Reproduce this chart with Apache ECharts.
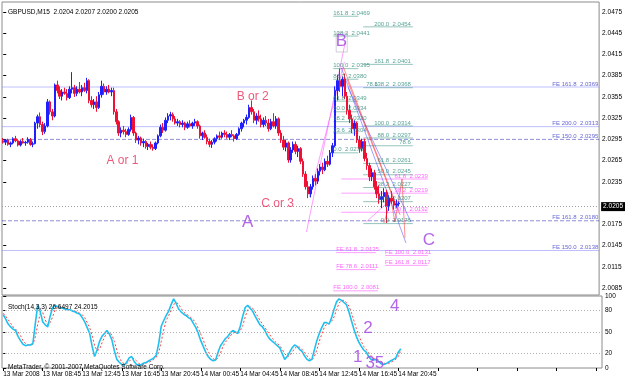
<!DOCTYPE html>
<html><head><meta charset="utf-8">
<script src="https://cdn.jsdelivr.net/npm/echarts/dist/echarts.min.js"></script>
<style>html,body{margin:0;padding:0;background:#fff}#c{width:625px;height:380px}</style>
</head><body><div id="c"></div>
<script>
// ---------- data ----------
const opens=[2.0293,2.0291,2.0294,2.0288,2.0290,2.0296,2.0293,2.0287,2.0292,2.0290,
2.0291,2.0295,2.0288,2.0289,2.0318,2.0327,2.0316,2.0306,2.0314,2.0348,
2.0334,2.0328,2.0372,2.0364,2.0356,2.0362,2.0360,2.0354,2.0366,2.0368,
2.0360,2.0366,2.0362,2.0368,2.0364,2.0378,2.0350,2.0344,2.0348,2.0340,
2.0358,2.0370,2.0362,2.0366,2.0362,2.0364,2.0334,2.0320,2.0304,2.0308,
2.0306,2.0302,2.0309,2.0326,2.0304,2.0294,2.0297,2.0290,2.0292,2.0285,
2.0288,2.0284,2.0282,2.0290,2.0300,2.0312,2.0308,2.0322,2.0328,2.0330,
2.0324,2.0318,2.0320,2.0316,2.0318,2.0312,2.0317,2.0314,2.0318,2.0320,
2.0314,2.0300,2.0304,2.0298,2.0292,2.0288,2.0291,2.0296,2.0300,2.0298,
2.0304,2.0302,2.0298,2.0302,2.0300,2.0296,2.0302,2.0310,2.0318,2.0322,
2.0326,2.0340,2.0334,2.0322,2.0328,2.0324,2.0316,2.0322,2.0318,2.0310,
2.0320,2.0314,2.0324,2.0304,2.0294,2.0284,2.0290,2.0266,2.0280,2.0288,
2.0278,2.0282,2.0264,2.0246,2.0228,2.0218,2.0228,2.0240,2.0236,2.0250,
2.0256,2.0252,2.0264,2.0260,2.0276,2.0286,2.0364,2.0378,2.0370,2.0380,
2.0356,2.0336,2.0324,2.0310,2.0318,2.0294,2.0282,2.0292,2.0268,2.0258,
2.0242,2.0248,2.0228,2.0218,2.0210,2.0214,2.0220,2.0200,2.0212,2.0208,
2.0202,2.0204];
const closes=[2.0291,2.0294,2.0288,2.0290,2.0296,2.0293,2.0287,2.0292,2.0290,2.0291,
2.0295,2.0288,2.0289,2.0318,2.0327,2.0316,2.0306,2.0314,2.0348,2.0334,
2.0328,2.0372,2.0364,2.0356,2.0362,2.0360,2.0354,2.0366,2.0368,2.0360,
2.0366,2.0362,2.0368,2.0364,2.0378,2.0350,2.0344,2.0348,2.0340,2.0358,
2.0370,2.0362,2.0366,2.0362,2.0364,2.0334,2.0320,2.0304,2.0308,2.0306,
2.0302,2.0309,2.0326,2.0304,2.0294,2.0297,2.0290,2.0292,2.0285,2.0288,
2.0284,2.0282,2.0290,2.0300,2.0312,2.0308,2.0322,2.0328,2.0330,2.0324,
2.0318,2.0320,2.0316,2.0318,2.0312,2.0317,2.0314,2.0318,2.0320,2.0314,
2.0300,2.0304,2.0298,2.0292,2.0288,2.0291,2.0296,2.0300,2.0298,2.0304,
2.0302,2.0298,2.0302,2.0300,2.0296,2.0302,2.0310,2.0318,2.0322,2.0326,
2.0340,2.0334,2.0322,2.0328,2.0324,2.0316,2.0322,2.0318,2.0310,2.0320,
2.0314,2.0324,2.0304,2.0294,2.0284,2.0290,2.0266,2.0280,2.0288,2.0278,
2.0282,2.0264,2.0246,2.0228,2.0218,2.0228,2.0240,2.0236,2.0250,2.0256,
2.0252,2.0264,2.0260,2.0276,2.0286,2.0364,2.0378,2.0370,2.0380,2.0356,
2.0336,2.0324,2.0310,2.0318,2.0294,2.0282,2.0292,2.0268,2.0258,2.0242,
2.0248,2.0228,2.0218,2.0210,2.0214,2.0220,2.0200,2.0212,2.0208,2.0202,
2.0204,2.0205];
const highs=[2.0297,2.0295,2.0296,2.0292,2.0298,2.0300,2.0295,2.0294,2.0297,2.0293,
2.0298,2.0297,2.0292,2.0320,2.0330,2.0333,2.0320,2.0318,2.0352,2.0350,
2.0338,2.0374,2.0378,2.0370,2.0366,2.0368,2.0366,2.0370,2.0390,2.0372,
2.0370,2.0376,2.0372,2.0375,2.0382,2.0380,2.0356,2.0352,2.0356,2.0362,
2.0378,2.0374,2.0370,2.0372,2.0368,2.0368,2.0338,2.0322,2.0312,2.0314,
2.0310,2.0312,2.0330,2.0328,2.0306,2.0300,2.0299,2.0296,2.0294,2.0290,
2.0292,2.0288,2.0292,2.0302,2.0316,2.0318,2.0326,2.0332,2.0334,2.0333,
2.0328,2.0324,2.0322,2.0322,2.0320,2.0320,2.0322,2.0320,2.0324,2.0322,
2.0316,2.0306,2.0308,2.0302,2.0296,2.0294,2.0298,2.0302,2.0306,2.0306,
2.0308,2.0306,2.0304,2.0308,2.0302,2.0304,2.0312,2.0320,2.0324,2.0330,
2.0344,2.0350,2.0338,2.0332,2.0336,2.0330,2.0326,2.0328,2.0324,2.0324,
2.0332,2.0328,2.0326,2.0308,2.0300,2.0294,2.0292,2.0284,2.0292,2.0292,
2.0286,2.0284,2.0268,2.0250,2.0236,2.0232,2.0244,2.0246,2.0254,2.0260,
2.0262,2.0268,2.0272,2.0280,2.0290,2.0370,2.0386,2.0395,2.0384,2.0388,
2.0362,2.0344,2.0330,2.0322,2.0320,2.0300,2.0296,2.0296,2.0276,2.0262,
2.0254,2.0252,2.0236,2.0230,2.0222,2.0226,2.0224,2.0216,2.0222,2.0214,
2.0210,2.0207];
const lows=[2.0289,2.0287,2.0286,2.0284,2.0288,2.0291,2.0285,2.0285,2.0289,2.0286,
2.0289,2.0286,2.0284,2.0288,2.0310,2.0312,2.0301,2.0303,2.0312,2.0330,
2.0322,2.0326,2.0360,2.0352,2.0350,2.0358,2.0350,2.0352,2.0360,2.0355,
2.0356,2.0360,2.0356,2.0362,2.0360,2.0346,2.0340,2.0338,2.0334,2.0338,
2.0354,2.0358,2.0358,2.0360,2.0356,2.0330,2.0316,2.0300,2.0298,2.0302,
2.0298,2.0300,2.0306,2.0300,2.0290,2.0288,2.0286,2.0284,2.0282,2.0280,
2.0281,2.0279,2.0280,2.0288,2.0298,2.0304,2.0306,2.0318,2.0322,2.0320,
2.0316,2.0314,2.0312,2.0312,2.0308,2.0310,2.0312,2.0310,2.0314,2.0310,
2.0296,2.0294,2.0296,2.0288,2.0284,2.0283,2.0288,2.0292,2.0294,2.0296,
2.0298,2.0296,2.0294,2.0298,2.0292,2.0294,2.0300,2.0306,2.0312,2.0316,
2.0324,2.0330,2.0318,2.0316,2.0320,2.0312,2.0312,2.0314,2.0306,2.0308,
2.0312,2.0310,2.0300,2.0290,2.0280,2.0278,2.0262,2.0262,2.0276,2.0274,
2.0270,2.0260,2.0242,2.0224,2.0212,2.0213,2.0224,2.0230,2.0232,2.0244,
2.0246,2.0250,2.0256,2.0258,2.0270,2.0284,2.0350,2.0362,2.0356,2.0352,
2.0330,2.0318,2.0304,2.0300,2.0290,2.0276,2.0278,2.0264,2.0252,2.0236,
2.0236,2.0224,2.0212,2.0204,2.0198,2.0206,2.0177,2.0194,2.0204,2.0196,
2.0198,2.0200];
const stochK=[74,68,61,57,54,52,44,38,33,31,
32,32,34,62,88,78,64,60,57,72,
84,87,85,84,83,82,81,81,79,78,
76,75,70,64,56,48,30,16,25,37,
44,48,52,47,39,24,12,8,5,4,
8,14,16,9,5,4,5,7,8,10,
12,14,18,35,58,66,73,79,88,96,
90,82,78,75,73,70,68,62,56,48,
38,30,22,16,12,10,11,22,31,36,
41,44,49,52,50,48,58,72,84,87,
83,79,72,66,60,57,52,45,40,37,
34,31,28,20,12,16,22,28,32,30,
26,23,17,12,10,12,25,38,48,56,
63,63,61,70,82,92,96,94,91,88,
78,66,54,44,36,30,25,22,16,12,
11,12,9,6,5,6,8,10,12,14,
22,26.6497];
const stochD=[76,72,67,62,57,54,50,45,38,34,
32,32,33,43,61,76,77,67,60,63,
71,81,85,85,84,83,82,81,80,79,
78,76,74,70,63,56,45,31,24,26,
35,43,48,49,46,37,25,15,8,6,
6,9,13,13,10,6,5,5,7,8,
10,12,15,22,37,53,66,73,80,88,
91,89,83,78,75,73,70,67,62,55,
47,39,30,23,17,13,11,14,21,30,
36,40,45,48,50,50,52,59,71,81,
85,83,78,72,66,61,56,51,46,41,
37,34,31,26,20,16,17,22,27,30,
29,26,22,17,13,11,16,25,37,47,
56,61,62,65,71,81,90,94,94,91,
86,77,66,55,45,37,30,26,21,17,
13,12,11,9,7,6,6,8,10,12,
16,24.2015];
const xTickLabels=["13 Mar 2008","13 Mar 08:45","13 Mar 12:45","13 Mar 16:45","13 Mar 20:45","14 Mar 00:45","14 Mar 04:45","14 Mar 08:45","14 Mar 12:45","14 Mar 16:45","14 Mar 20:45"];
const priceTicks=[2.0085,2.0115,2.0145,2.0175,2.0235,2.0265,2.0295,2.0325,2.0355,2.0385,2.0415,2.0445,2.0475];
const stochTicks=[0,20,50,80,100];
const lastPrice=2.0205;
// Fibo expansion horizontal levels (full width)
const feLevels=[2.0369,2.0313,2.0295,2.0180,2.0138];
const feTexts=["FE 161.8  2.0369","FE 200.0  2.0313","FE 150.0  2.0295","FE 161.8  2.0180","FE 150.0  2.0138"];
// left fibo retracement
const fibLeftPrices=[2.0469,2.0441,2.0395,2.0380,2.0349,2.0334,2.0320,2.0304,2.0276];
const fibLeftTexts=["161.8  2.0469","138.2  2.0441","100.0  2.0395","88.0  2.0380","61.8  2.0349","50.0  2.0334","38.2  2.0320","23.6  2.0304","0.0  2.0276"];
const fibLeftSpan=[134.3,144.5];
// right fibo
const fibRightPrices=[2.0454,2.0401,2.0368,2.0314,2.0297,2.0286,2.0261,2.0245,2.0227,2.0207,2.0176];
const fibRightTexts=["200.0  2.0454","161.8  2.0401","138.2  2.0368","100.0  2.0314","88.0  2.0297","78.6","61.8  2.0261","50.0  2.0245","38.2  2.0227","23.6  2.0207","0.0  2.0176"];
const fibRightSpan=[146.5,166.7];
// pink retracement levels
const pinkPrices=[2.0239,2.0219,2.0192];
const pinkTexts=["61.8  2.0239","38.2  2.0219","50.0  2.0192"];
const pinkSpan=[137.6,172.8];
// pink FE short levels: [from, to, price]
const pinkFE=[[135.5,151.7,2.0135],[135.5,151.7,2.0111],[134.3,152.5,2.0081],[155.4,172.8,2.0131],[155.4,172.8,2.0117]];
const pinkFETexts=["FE 61.8  2.0135","FE 78.6  2.0111","FE 100.0  2.0081","FE 100.0  2.0131","FE 161.8  2.0117"];
// trend lines [[i,p],[i,p]]
const pinkTrend=[[[123.4,2.01641],[139.2,2.04326]],[[124.6,2.02136],[138.8,2.04043]],[[147.7,2.01783],[155.4,2.02023]]];
const blueTrend=[[[137.6,2.03959],[163.9,2.01486]],[[140.4,2.03676],[165.9,2.01783]]];
const redTrend=[[[138.4,2.03973],[161.5,2.01882]],[[140.0,2.03789],[159.0,2.02094]]];
const redZigzag=[[154.9,2.01769],[157.8,2.02094],[159.4,2.01783],[160.6,2.02023],[162.3,2.02390],[163.5,2.01557]];
const boxB=[[135.5,2.04453],[140.0,2.04453],[140.0,2.04185],[135.5,2.04185],[135.5,2.04453]];
// annotations [i, price, text]
const redNotes=[[48.5,2.02645,"A or 1"],[101.5,2.0355,"B or 2"],[111.7,2.0204,"C or 3"]];
const purpleNotes=[[99.5,2.0178,"A"],[137.6,2.0433,"B"],[173.2,2.0153,"C"]];
const stochNotes=[[143.6,15,"1"],[147.7,55,"2"],[150.5,7,"35"],[158.6,86,"4"]];

// ---------- chart ----------
const N=243;
const cats=[];for(let i=0;i<N;i++)cats.push(String(i));
const candle=opens.map((o,i)=>[o,closes[i],lows[i],highs[i]]);
const PMIN=2.0475-283/7077, PMAX=2.0475+10/7077;
const F='"Liberation Sans",Arial,sans-serif';
const small={fontSize:6,fontFamily:F};
const big='Arial,"Liberation Sans",sans-serif';

const lineData=[];
const X0=-0.5,X1=N-0.5;
feLevels.forEach((p,k)=>lineData.push({coords:[[X0,p],[X1,p]],lineStyle:{color:(k===2||k===3)?'#2020b0':'#8080ff',width:1,type:(k===2||k===3)?[4,2]:'solid'}}));
fibLeftPrices.forEach(p=>lineData.push({coords:[[fibLeftSpan[0],p],[fibLeftSpan[1],p]],lineStyle:{color:'#2e8b7a',width:1}}));
fibRightPrices.forEach(p=>lineData.push({coords:[[fibRightSpan[0],p],[fibRightSpan[1],p]],lineStyle:{color:'#2e8b7a',width:1}}));
pinkPrices.forEach(p=>lineData.push({coords:[[pinkSpan[0],p],[pinkSpan[1],p]],lineStyle:{color:'#ff40ff',width:1}}));
pinkFE.forEach(a=>lineData.push({coords:[[a[0],a[2]],[a[1],a[2]]],lineStyle:{color:'#ff40ff',width:1}}));
pinkTrend.forEach(s=>lineData.push({coords:s,lineStyle:{color:'#ff40ff',width:1}}));
blueTrend.forEach(s=>lineData.push({coords:s,lineStyle:{color:'#4040ff',width:1}}));
redTrend.forEach(s=>lineData.push({coords:s,lineStyle:{color:'#ff2020',width:1}}));
lineData.push({coords:redZigzag,lineStyle:{color:'#ff2020',width:1}});
lineData.push({coords:boxB,lineStyle:{color:'#b0a0b8',width:1}});

const txt=[];
feLevels.forEach((p,k)=>txt.push({value:[X1-0.3,p],label:{formatter:feTexts[k],color:'#3a3ad0',align:'right',verticalAlign:'bottom',...small}}));
fibLeftPrices.forEach((p,k)=>txt.push({value:[fibLeftSpan[0],p],label:{formatter:fibLeftTexts[k],color:'#2e8b7a',align:'left',verticalAlign:'bottom',...small}}));
fibRightPrices.forEach((p,k)=>txt.push({value:[fibRightSpan[1]-0.8,p],label:{formatter:fibRightTexts[k],color:'#2e8b7a',align:'right',verticalAlign:'bottom',...small}}));
txt.push({value:[147.7,2.0369],label:{formatter:'78.6',color:'#2e8b7a',align:'left',verticalAlign:'bottom',...small}});
pinkPrices.forEach((p,k)=>txt.push({value:[pinkSpan[1],p],label:{formatter:pinkTexts[k],color:'#ff40ff',align:'right',verticalAlign:'bottom',...small}}));
pinkFE.forEach((a,k)=>txt.push({value:[a[0],a[2]],label:{formatter:pinkFETexts[k],color:'#ff40ff',align:'left',verticalAlign:'bottom',...small}}));
redNotes.forEach(a=>txt.push({value:[a[0],a[1]],label:{formatter:a[2],color:'#e8305a',align:'center',verticalAlign:'middle',fontSize:12,fontFamily:big}}));
purpleNotes.forEach(a=>txt.push({value:[a[0],a[1]],label:{formatter:a[2],color:'#a040e0',align:'center',verticalAlign:'middle',fontSize:17,fontFamily:big}}));
const stxt=stochNotes.map(a=>({value:[a[0],a[1]],label:{formatter:a[2],color:'#a040e0',align:'center',verticalAlign:'middle',fontSize:17,fontFamily:big}}));

const chart=echarts.init(document.getElementById('c'),null,{renderer:'canvas'});
chart.setOption({
  animation:false,
  backgroundColor:'#ffffff',
  title:[
    {text:'GBPUSD,M15  2.0204 2.0207 2.0200 2.0205',left:3,top:4,textStyle:{fontSize:6.5,fontWeight:'normal',color:'#000',fontFamily:F}},
    {text:'Stoch(14,3,3) 26.6497 24.2015',left:3,top:299,textStyle:{fontSize:6.5,fontWeight:'normal',color:'#000',fontFamily:F}},
    {text:'MetaTrader, \u00a9 2001-2007 MetaQuotes Software Corp.',left:3,top:359,textStyle:{fontSize:6.5,fontWeight:'normal',color:'#000',fontFamily:F}}
  ],
  grid:[
    {left:2,right:23,top:2,height:293,show:true,borderColor:'#8c8c8c',borderWidth:1},
    {left:2,right:23,top:296,height:72,show:true,borderColor:'#8c8c8c',borderWidth:1}
  ],
  xAxis:[
    {type:'category',gridIndex:0,data:cats,boundaryGap:true,axisLine:{show:false},axisTick:{show:false},axisLabel:{show:false},splitLine:{show:false}},
    {type:'category',gridIndex:1,data:cats,boundaryGap:true,axisLine:{show:false},
     axisTick:{show:true,interval:15,alignWithLabel:true,length:3,lineStyle:{color:'#000'}},
     axisLabel:{show:true,interval:15,showMinLabel:true,hideOverlap:false,formatter:(v,i)=>xTickLabels[i/16]||'',align:'left',color:'#000',margin:3,fontSize:6.5,fontFamily:F},splitLine:{show:false}},
    {type:'value',gridIndex:0,min:X0,max:X1,show:false},
    {type:'value',gridIndex:1,min:X0,max:X1,show:false}
  ],
  yAxis:[
    {type:'value',gridIndex:0,position:'right',min:PMIN,max:PMAX,splitLine:{show:false},axisLine:{show:false},
     axisTick:{show:true,length:3,customValues:priceTicks,lineStyle:{color:'#000'}},
     axisLabel:{customValues:priceTicks,formatter:v=>v.toFixed(4),color:'#000',margin:3,fontSize:6.5,fontFamily:F}},
    {type:'value',gridIndex:1,position:'right',min:0,max:100,splitLine:{show:false},axisLine:{show:false},
     axisTick:{show:true,length:3,customValues:stochTicks,lineStyle:{color:'#000'}},
     axisLabel:{customValues:stochTicks,color:'#000',margin:3,fontSize:6.5,fontFamily:F}}
  ],
  series:[
    {type:'lines',coordinateSystem:'cartesian2d',xAxisIndex:2,yAxisIndex:0,polyline:true,silent:true,z:1,data:lineData},
    {type:'candlestick',xAxisIndex:0,yAxisIndex:0,data:candle,barWidth:2,z:2,
     itemStyle:{color:'#2020ff',color0:'#ee1133',borderColor:'#2020ff',borderColor0:'#ee1133',borderWidth:1},
     markLine:{silent:true,symbol:'none',data:[{yAxis:lastPrice}],
       lineStyle:{color:'#a0a0a0',type:[1,2],width:1},
       label:{show:true,position:'end',distance:2,formatter:lastPrice.toFixed(4),color:'#fff',backgroundColor:'#000',padding:[1,2,1,2],fontSize:6.5,fontFamily:F}}},
    {type:'scatter',xAxisIndex:2,yAxisIndex:0,symbolSize:1,itemStyle:{color:'rgba(0,0,0,0)'},silent:true,z:5,label:{show:true,position:'inside'},data:txt},
    {type:'line',xAxisIndex:1,yAxisIndex:1,data:stochD,showSymbol:false,symbol:'none',lineStyle:{color:'#ff4040',width:1,type:[2,2]},z:2,
     markLine:{silent:true,symbol:'none',data:[{yAxis:20},{yAxis:50},{yAxis:80}],lineStyle:{color:'#b0b0b0',type:[1,2],width:1},label:{show:false}}},
    {type:'line',xAxisIndex:1,yAxisIndex:1,data:stochK,showSymbol:false,symbol:'none',lineStyle:{color:'#1ec0f0',width:1.6},z:3},
    {type:'scatter',xAxisIndex:3,yAxisIndex:1,symbolSize:1,itemStyle:{color:'rgba(0,0,0,0)'},silent:true,z:5,label:{show:true,position:'inside'},data:stxt}
  ]
});
</script></body></html>
